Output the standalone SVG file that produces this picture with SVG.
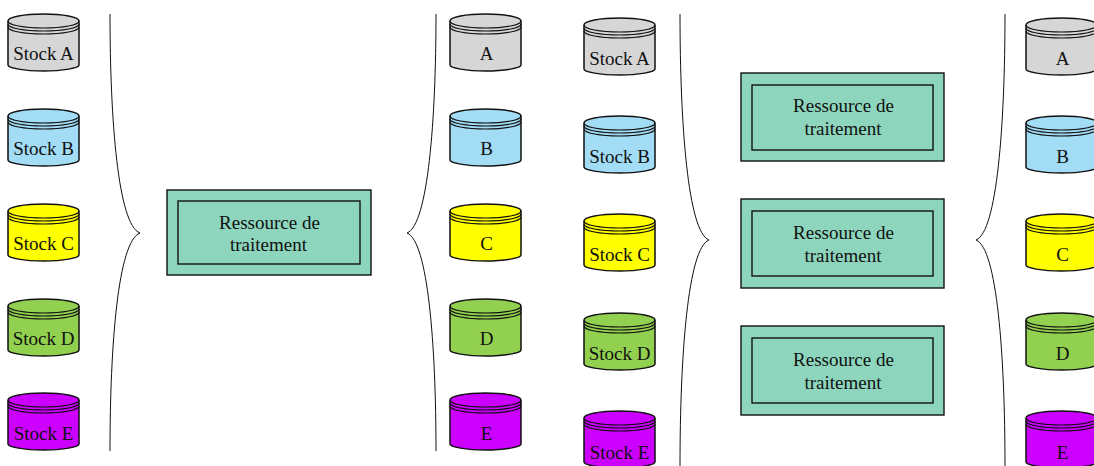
<svg xmlns="http://www.w3.org/2000/svg" width="1094" height="466" viewBox="0 0 1094 466">
<style>
text{font-family:"Liberation Serif","Times New Roman",serif;font-size:19px;fill:#111;text-anchor:middle}
.a{fill:#d6d6d6}.b{fill:#a3dcf5}.y{fill:#ffff00}.d{fill:#92d050}.e{fill:#cc00ff}
.r{fill:#8dd6bd;stroke:#111;stroke-width:1.4}
.br{fill:none;stroke:#111;stroke-width:1}
</style>
<defs>
<symbol id="cyl" width="74" height="60" viewBox="0 0 74 60" overflow="visible">
<path stroke="none" d="M1 8C1 4 17 1 36.500 1S72 4 72 8V52C72 55 56 58 36.500 58S1 55 1 52Z"/>
<path fill="none" stroke="#111" stroke-width="1.200" d="M1 8C1 12 17 15 36.500 15S72 12 72 8M1 11C1 15 17 18 36.500 18S72 15 72 11M1 14C1 18 17 21 36.500 21S72 18 72 14"/>
<path fill="none" stroke="#111" stroke-width="1.500" d="M1 8C1 4 17 1 36.500 1S72 4 72 8V52C72 55 56 58 36.500 58S1 55 1 52Z"/>
</symbol>
</defs>
<g id="connectors">
<path class="br" d="M110 14C110 120 118 225 140 233C118 241 110 345 110 451"/>
<path class="br" d="M436 14C436 120 428 225 407 233C428 241 436 345 436 451"/>
<path class="br" d="M680 14C680 125 688 232 709 240C688 248 680 355 680 466"/>
<path class="br" d="M1005 14C1005 125 997 232 976 240C997 248 1005 355 1005 466"/>
</g>
<g id="n1"><use href="#cyl" x="7" y="13" class="a"/><text x="43.500" y="60">Stock A</text></g>
<g id="n2"><use href="#cyl" x="7" y="108" class="b"/><text x="43.500" y="155">Stock B</text></g>
<g id="n3"><use href="#cyl" x="7" y="203" class="y"/><text x="43.500" y="250">Stock C</text></g>
<g id="n4"><use href="#cyl" x="7" y="298" class="d"/><text x="43.500" y="345">Stock D</text></g>
<g id="n5"><use href="#cyl" x="7" y="392" class="e"/><text x="43.500" y="440">Stock E</text></g>
<g id="n6"><rect class="r" x="167" y="190" width="204" height="85"/><rect class="r" x="178" y="201" width="182" height="63"/><text x="269.500" y="229">Ressource de</text><text x="268.500" y="251">traitement</text></g>
<g id="n7"><use href="#cyl" x="449" y="13" class="a"/><text x="486.500" y="60">A</text></g>
<g id="n8"><use href="#cyl" x="449" y="108" class="b"/><text x="486.500" y="155">B</text></g>
<g id="n9"><use href="#cyl" x="449" y="203" class="y"/><text x="486.500" y="250">C</text></g>
<g id="n10"><use href="#cyl" x="449" y="298" class="d"/><text x="486.500" y="345">D</text></g>
<g id="n11"><use href="#cyl" x="449" y="392" class="e"/><text x="486.500" y="440">E</text></g>
<g id="n12"><use href="#cyl" x="583" y="17" class="a"/><text x="619.500" y="65">Stock A</text></g>
<g id="n13"><use href="#cyl" x="583" y="115" class="b"/><text x="619.500" y="163">Stock B</text></g>
<g id="n14"><use href="#cyl" x="583" y="213" class="y"/><text x="619.500" y="261">Stock C</text></g>
<g id="n15"><use href="#cyl" x="583" y="312" class="d"/><text x="619.500" y="360">Stock D</text></g>
<g id="n16"><use href="#cyl" x="583" y="410" class="e"/><text x="619.500" y="459">Stock E</text></g>
<g id="n17"><rect class="r" x="741" y="73" width="203" height="88"/><rect class="r" x="752" y="85" width="181" height="65"/><text x="843.500" y="112">Ressource de</text><text x="843" y="135">traitement</text></g>
<g id="n18"><rect class="r" x="741" y="199" width="203" height="89"/><rect class="r" x="752" y="211" width="181" height="65"/><text x="843.500" y="239">Ressource de</text><text x="843" y="262">traitement</text></g>
<g id="n19"><rect class="r" x="741" y="326" width="203" height="89"/><rect class="r" x="752" y="338" width="181" height="65"/><text x="843.500" y="366">Ressource de</text><text x="843" y="389">traitement</text></g>
<g id="n20"><use href="#cyl" x="1025" y="17" class="a"/><text x="1062.500" y="65">A</text></g>
<g id="n21"><use href="#cyl" x="1025" y="115" class="b"/><text x="1062.500" y="163">B</text></g>
<g id="n22"><use href="#cyl" x="1025" y="213" class="y"/><text x="1062.500" y="261">C</text></g>
<g id="n23"><use href="#cyl" x="1025" y="312" class="d"/><text x="1062.500" y="360">D</text></g>
<g id="n24"><use href="#cyl" x="1025" y="410" class="e"/><text x="1062.500" y="459">E</text></g>
</svg>
